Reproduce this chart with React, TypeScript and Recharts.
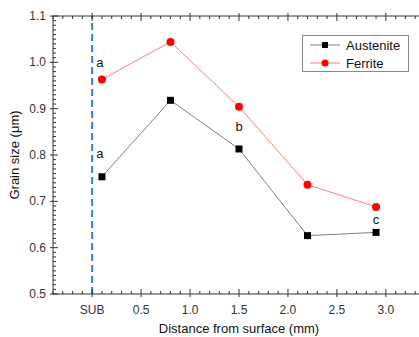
import {
  Line,
  LineChart,
  ReferenceDot,
  ReferenceLine,
  XAxis,
  YAxis,
} from "recharts";

const distance = [0.1, 0.8, 1.5, 2.2, 2.9];
const austenite = [0.753, 0.918, 0.813, 0.626, 0.633];
const ferrite = [0.963, 1.044, 0.904, 0.736, 0.688];

const xLabels = ["SUB", "0.5", "1.0", "1.5", "2.0", "2.5", "3.0"];
const xMajor = [0, 0.5, 1.0, 1.5, 2.0, 2.5, 3.0];
const yLabels = ["0.5", "0.6", "0.7", "0.8", "0.9", "1.0", "1.1"];
const yMajor = [0.5, 0.6, 0.7, 0.8, 0.9, 1.0, 1.1];

const noteX = [0.08, 0.08, 1.5, 2.9];
const noteY = [1.0, 0.804, 0.861, 0.662];
const noteText = ["a", "a", "b", "c"];

const data = distance.map((d, i) => ({
  d,
  austenite: austenite[i],
  ferrite: ferrite[i],
}));

const xTicks: number[] = [];
for (let i = -4; i <= 34; i++) xTicks.push(i / 10);
const yTicks: number[] = [];
for (let i = 50; i <= 110; i++) yTicks.push(i / 100);

const isMajor = (v: number, majors: number[]) =>
  majors.some((m) => Math.abs(m - v) < 1e-6);

const font = "Arial, 'Liberation Sans', sans-serif";
const axisColor = "#333";

const BottomTick = (props: any) => {
  const { x, y, payload } = props;
  const v = payload.value;
  const idx = xMajor.findIndex((m) => Math.abs(m - v) < 1e-6);
  return (
    <g>
      {idx >= 0 ? (
        <line x1={x} x2={x} y1={y + 3} y2={y - 5} stroke={axisColor} />
      ) : (
        <line x1={x} x2={x} y1={y} y2={y - 3} stroke={axisColor} />
      )}
      {idx >= 0 && (
        <text
          x={x}
          y={y + 20}
          textAnchor="middle"
          fontSize={12}
          fontFamily={font}
          fill="#333"
        >
          {xLabels[idx]}
        </text>
      )}
    </g>
  );
};

const TopTick = (props: any) => {
  const { x, y, payload } = props;
  const major = isMajor(payload.value, xMajor);
  return (
    <line
      x1={x}
      x2={x}
      y1={major ? y - 3 : y}
      y2={major ? y + 5 : y + 3}
      stroke={axisColor}
    />
  );
};

const LeftTick = (props: any) => {
  const { x, y, payload } = props;
  const v = payload.value;
  const idx = yMajor.findIndex((m) => Math.abs(m - v) < 1e-6);
  return (
    <g>
      {idx >= 0 ? (
        <line x1={x - 3} x2={x + 5} y1={y} y2={y} stroke={axisColor} />
      ) : (
        <line x1={x} x2={x + 3} y1={y} y2={y} stroke={axisColor} />
      )}
      {idx >= 0 && (
        <text
          x={x - 7}
          y={y + 4}
          textAnchor="end"
          fontSize={12}
          fontFamily={font}
          fill="#333"
        >
          {yLabels[idx]}
        </text>
      )}
    </g>
  );
};

const LegendBox = () => (
  <svg width={108} height={38} style={{ display: "block" }}>
    <rect x={0.5} y={0.5} width={106} height={36} fill="#fff" stroke="#888" />
    <line x1={8} x2={38} y1={10} y2={10} stroke="#808080" />
    <rect x={20} y={7} width={6} height={6} fill="#000" />
    <text x={44} y={15} fontSize={13} fontFamily={font} fill="#111">
      Austenite
    </text>
    <line x1={8} x2={38} y1={28} y2={28} stroke="#ff8080" />
    <circle cx={23} cy={28} r={3.5} fill="#ff0000" />
    <text x={44} y={33} fontSize={13} fontFamily={font} fill="#111">
      Ferrite
    </text>
  </svg>
);

const SquareDot = (props: any) => {
  const { cx, cy } = props;
  return <rect x={cx - 3.5} y={cy - 3.5} width={7} height={7} fill="#000" />;
};

export default function App() {
  return (
    <div
      style={{
        position: "absolute",
        left: 0,
        top: 0,
        width: 419,
        height: 337,
        overflow: "hidden",
        background: "#fff",
      }}
    >
      <LineChart
        width={426}
        height={337}
        data={data}
        margin={{ top: 15, right: 1, bottom: 0, left: 0 }}
      >
        <XAxis
          dataKey="d"
          type="number"
          domain={[-0.4, 3.4]}
          ticks={xTicks}
          interval={0}
          tickSize={0}
          tickMargin={0}
          tickLine={false}
          tick={<BottomTick />}
          stroke={axisColor}
          height={43}
          allowDataOverflow
          label={{
            value: "Distance from surface (mm)",
            position: "insideBottom",
            offset: 4,
            fontSize: 13,
            fontFamily: font,
            fill: "#111",
          }}
        />
        <XAxis
          xAxisId="top"
          dataKey="d"
          type="number"
          orientation="top"
          domain={[-0.4, 3.4]}
          ticks={xTicks}
          interval={0}
          tickSize={0}
          tickMargin={0}
          tickLine={false}
          tick={<TopTick />}
          stroke={axisColor}
          height={1}
          allowDataOverflow
        />
        <YAxis
          type="number"
          domain={[0.5, 1.1]}
          ticks={yTicks}
          interval={0}
          tickSize={0}
          tickMargin={0}
          tickLine={false}
          tick={<LeftTick />}
          stroke={axisColor}
          width={53}
          allowDataOverflow
          label={{
            value: "Grain size (\u03bcm)",
            angle: -90,
            position: "insideLeft",
            offset: 14,
            style: { textAnchor: "middle" },
            fontSize: 13,
            fontFamily: font,
            fill: "#111",
          }}
        />
        <ReferenceLine
          x={0}
          stroke="#2f7fd0"
          strokeWidth={2}
          strokeDasharray="7 4"
        />
        <Line
          dataKey="austenite"
          stroke="#808080"
          strokeWidth={1}
          dot={<SquareDot />}
          isAnimationActive={false}
        />
        <Line
          dataKey="ferrite"
          stroke="#ff8080"
          strokeWidth={1}
          dot={{ r: 4, fill: "#ff0000", stroke: "#ff0000", strokeWidth: 0 }}
          isAnimationActive={false}
        />
        {noteText.map((t, i) => (
          <ReferenceDot
            key={i}
            x={noteX[i]}
            y={noteY[i]}
            r={1}
            fill="none"
            stroke="none"
            label={{
              value: t,
              position: "center",
              fontSize: 13,
              fontFamily: font,
              fill: "#111",
            }}
          />
        ))}
      </LineChart>
      <div style={{ position: "absolute", left: 302, top: 35 }}>
        <LegendBox />
      </div>
    </div>
  );
}
